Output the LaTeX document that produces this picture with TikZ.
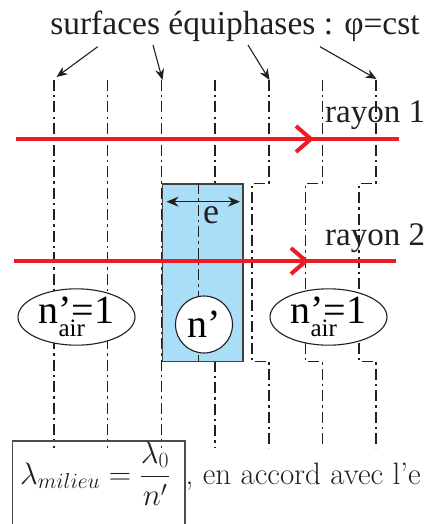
\RequirePackage{fix-cm}
\documentclass[tikz,border=0pt]{standalone}
\usepackage{fontspec}
\newfontfamily\tms{Liberation Serif}
\usetikzlibrary{arrows.meta,shapes.geometric}
\definecolor{rayred}{RGB}{237,28,36}
\definecolor{milieu}{RGB}{170,222,247}
\definecolor{ink}{RGB}{35,31,32}
\begin{document}
\begin{tikzpicture}[x=1pt,y=-1pt,
  wave/.style={ink, line width=1.2pt, dash pattern=on 11pt off 4pt on 2.5pt off 4pt},
  ray/.style={rayred, line width=4pt},
  chev/.style={-{Straight Barb[length=15pt,width=26pt]}},
  pointer/.style={ink, line width=1.1pt, -{Stealth[length=11pt,width=9pt]}},
  biglabel/.style={ink, font=\tms\fontsize{33}{33}\selectfont, inner sep=0pt},
  ell/.style={ellipse, draw=ink, line width=1.1pt, fill=white, inner sep=0pt,
     minimum width=117pt, minimum height=54pt, font=\tms\fontsize{40}{40}\selectfont},
  circ/.style={circle, draw=ink, line width=1.1pt, fill=white, inner sep=0pt,
     minimum size=57pt, font=\tms\fontsize{40}{40}\selectfont},
  slab/.style={draw=ink!85, line width=1.2pt, fill=milieu},
  boxline/.style={ink!80, line width=1.1pt},
  formula/.style={ink, anchor=base west, inner sep=0pt, font=\fontsize{31}{37}\selectfont}]
\useasboundingbox (0,0) rectangle (428,524);

% wavefront lines
\foreach \i/\x in {1/54,2/107.3,3/161.3,4/215,5/269,6/322.3,7/376}{
  \coordinate (top\i) at (\x,80);
  \coordinate (bot\i) at (\x,448);}
\draw[wave] (top1) -- (bot1);
\draw[wave] (top2) -- (bot2);
\draw[wave] (top3) -- (bot3);
\draw[wave] (top4) -- (215,183.3);
\draw[wave] (215,360.7) -- (bot4);
\draw[wave] (top5) -- (269,183.5) -- (252,183.5) -- (252,361.5) -- (269,361.5) -- (bot5);
\draw[wave] (top6) -- (322.3,183.5) -- (305.5,183.5) -- (305.5,361.5) -- (322.3,361.5) -- (bot6);
\draw[wave] (top7) -- (376,183.5) -- (359,183.5) -- (359,361.5) -- (376,361.5) -- (bot7);

% slab
\node[slab, minimum width=80.6pt, minimum height=177.4pt, inner sep=0pt, anchor=north west] (slab) at (161.7,183.3) {};
\draw[wave] (198.3,183.3) -- (198.3,360.7);

% thickness arrow
\coordinate (eL) at (166.5,201.7);
\coordinate (eR) at (240,201.7);
\draw[ink, line width=1.2pt, {Stealth[length=12pt,width=10pt]}-{Stealth[length=12pt,width=10pt]}] (eL) -- (eR);
\node[biglabel, anchor=base, font=\tms\fontsize{36}{36}\selectfont] (e) at (211,223) {e};

% index labels
\node[ell] (airL) at (76.5,317) {n\rlap{\raisebox{-13pt}{\fontsize{25}{25}\selectfont air}}’=1};
\node[circ] (nslab) at (204,324.5) {n’};
\node[ell] (airR) at (328.5,317) {n\rlap{\raisebox{-13pt}{\fontsize{25}{25}\selectfont air}}’=1};

% rays
\coordinate (r1a) at (16,139);
\coordinate (r1m) at (314,139);
\coordinate (r1b) at (399,139);
\draw[ray] (r1a) -- (r1b);
\draw[ray, chev] (r1a) -- (r1m);
\coordinate (r2a) at (14,261);
\coordinate (r2m) at (309,261);
\coordinate (r2b) at (396,261);
\draw[ray] (r2a) -- (r2b);
\draw[ray, chev] (r2a) -- (r2m);
\node[biglabel, anchor=base west] (ray1) at (325,122) {rayon 1};
\node[biglabel, anchor=base west] (ray2) at (325,245) {rayon 2};

% title and pointers
\node[biglabel, anchor=base, font=\tms\fontsize{33.5}{34}\selectfont] (title) at (235,35) {surfaces équiphases : φ=cst};
\coordinate (p1) at (97.7,46.7);
\coordinate (p2) at (153,45);
\coordinate (p3) at (248,45);
\coordinate (p4) at (320,46.7);
\draw[pointer] (p1) -- (56.5,77);
\draw[pointer] (p2) -- (162.5,80);
\draw[pointer] (p3) -- (269.5,80);
\draw[pointer] (p4) -- (376.5,79);

% bottom formula
\draw[boxline] (12.7,530) -- (12.7,441) -- (185,441) -- (185,530);
\node[formula] (lam) at (20,484) {$\displaystyle\lambda_{milieu}=\frac{\lambda_0}{n'}$};
\node[formula] (txt) at (185.5,484) {, en accord avec l'e};
\end{tikzpicture}
\end{document}
